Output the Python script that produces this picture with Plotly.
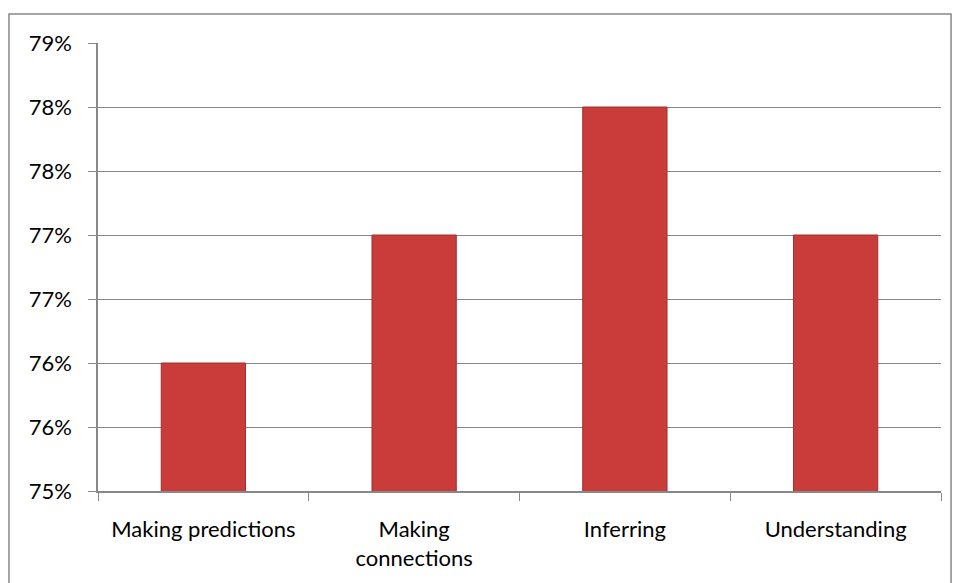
import plotly.graph_objects as go

categories = ["Making predictions", "Making<br>connections", "Inferring", "Understanding"]
values = [76.0, 77.0, 78.0, 77.0]
y_tickvals = [75.0, 75.5, 76.0, 76.5, 77.0, 77.5, 78.0, 78.5]
y_ticktext = ["75%", "76%", "76%", "77%", "77%", "78%", "78%", "79%"]

fig = go.Figure()
fig.add_trace(go.Bar(
    x=categories, y=values,
    marker=dict(color="#C93C39", line=dict(color="#A33030", width=1)),
))

fig.update_layout(
    width=956, height=583,
    margin=dict(l=98, r=15, t=43, b=92),
    paper_bgcolor="white", plot_bgcolor="white",
    bargap=0.6,
    showlegend=False,
    font=dict(family="Lato, Open Sans, sans-serif", size=22, color="#000000"),
    shapes=[dict(type="rect", xref="paper", yref="paper",
                 x0=-0.1056, x1=1.0119, y0=-0.215, y1=1.0647,
                 line=dict(color="#888888", width=1.5), fillcolor="rgba(0,0,0,0)",
                 layer="below")],
)
fig.update_xaxes(
    type="category", tickson="boundaries", ticks="outside", ticklen=8,
    tickcolor="#888888", showline=True, linecolor="#888888", linewidth=1.5,
    showgrid=False, tickfont=dict(size=22), ticklabelstandoff=18,
)
fig.update_yaxes(
    range=[75, 78.5], tickvals=y_tickvals, ticktext=y_ticktext,
    ticks="outside", ticklen=8, tickcolor="#888888",
    showline=True, linecolor="#888888", linewidth=1.5,
    showgrid=True, gridcolor="#888888", gridwidth=1.2,
    tickfont=dict(size=22), zeroline=False, ticklabelstandoff=12,
)
fig.write_html("out.html")
